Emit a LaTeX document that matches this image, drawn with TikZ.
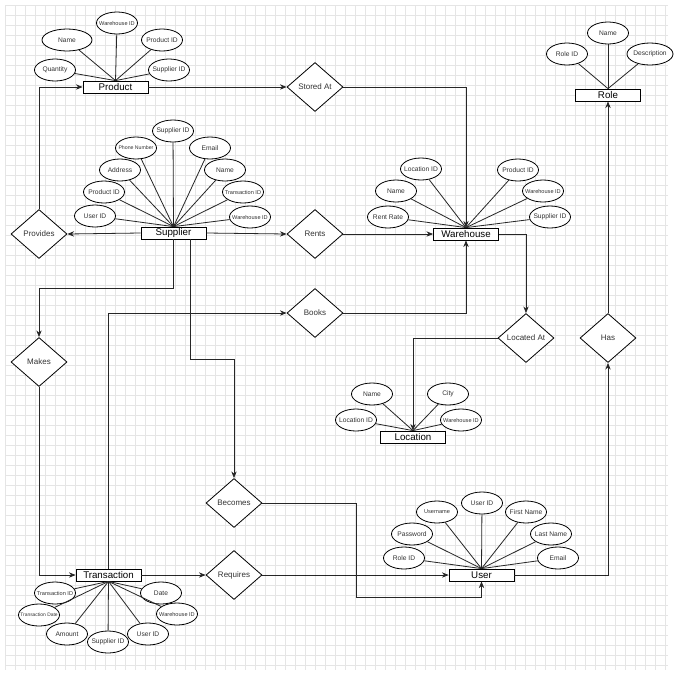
\documentclass[tikz,border=0pt]{standalone}
\usepackage{fontspec}
\setmainfont{Liberation Sans}
\usetikzlibrary{shapes.geometric,arrows.meta,calc}

\begin{document}
\begin{tikzpicture}[x=0.75pt,y=-0.75pt,
        entity/.style={rectangle, draw, fill=white, line width=0.6pt,
                minimum width=48.75pt, minimum height=9pt, inner sep=0pt,
                font=\fontsize{7.3}{8}\selectfont},
        attr/.style={ellipse, draw, fill=white, line width=0.6pt,
                minimum width=30.75pt, minimum height=16.5pt,
                inner xsep=-9pt, inner ysep=0pt, text=black!80,
                font=\fontsize{5}{6}\selectfont},
        smalltxt/.style={font=\fontsize{4.2}{5}\selectfont},
        tinytxt/.style={font=\fontsize{3.7}{4}\selectfont},
        relation/.style={diamond, draw, fill=white, line width=0.6pt,
                minimum width=42pt, minimum height=36.75pt, inner sep=0pt,
                text=black!80, font=\fontsize{6}{7}\selectfont},
        attrline/.style={line width=0.6pt, black!85},
        arr/.style={line width=0.6pt, black!85, -{Stealth[length=5pt,width=4pt]}},
        gridline/.style={line width=0.3pt, black!10}]
    \useasboundingbox (0,0) rectangle (675,679);
    \fill[white] (0,0) rectangle (675,679);
    % background grid
    \foreach \gx in {5,15,...,665}
        \draw[gridline] (\gx,5) -- (\gx,670);
    \foreach \gy in {5,15,...,665}
        \draw[gridline] (5,\gy) -- (668,\gy);

    % entities
    \node[entity] (product) at (115.5,87) {Product};
    \node[entity] (supplier) at (173.5,233) {Supplier};
    \node[entity] (warehouse) at (466,234) {Warehouse};
    \node[entity] (role) at (608,95) {Role};
    \node[entity] (location) at (413,437) {Location};
    \node[entity] (user) at (481.5,575) {User};
    \node[entity] (trans) at (108.5,575) {Transaction};

    % relationships
    \node[relation] (provides) at (39,234) {Provides};
    \node[relation] (stored) at (315,87) {Stored At};
    \node[relation] (rents) at (315,234) {Rents};
    \node[relation] (books) at (315,313) {Books};
    \node[relation] (makes) at (39,362) {Makes};
    \node[relation] (becomes) at (234,503) {Becomes};
    \node[relation] (requires) at (234,575) {Requires};
    \node[relation] (located) at (526,338) {Located At};
    \node[relation] (has) at (608,338) {Has};

    % product attributes
    \node[attr, smalltxt] (p_wid) at (117,23) {Warehouse ID};
    \node[attr, minimum width=37.5pt] (p_name) at (67,40) {Name};
    \node[attr] (p_pid) at (162,40) {Product ID};
    \node[attr] (p_qty) at (55,70) {Quantity};
    \node[attr] (p_sid) at (169,70) {Supplier ID};
    \foreach \a in {p_wid,p_name,p_pid,p_qty,p_sid}
        \draw[attrline] (\a) -- (product.north);

    % supplier attributes
    \node[attr] (s_sid) at (173,131) {Supplier ID};
    \node[attr, font=\fontsize{3.9}{4}\selectfont] (s_phone) at (136,148) {Phone Number};
    \node[attr] (s_email) at (210,148) {Email};
    \node[attr] (s_addr) at (120,170) {Address};
    \node[attr] (s_name) at (225,170) {Name};
    \node[attr] (s_pid) at (104,192) {Product ID};
    \node[attr, smalltxt] (s_tid) at (243,192) {Transaction ID};
    \node[attr] (s_uid) at (95,216) {User ID};
    \node[attr, smalltxt] (s_wid) at (250,217) {Warehouse ID};
    \foreach \a in {s_sid,s_phone,s_email,s_addr,s_name,s_pid,s_tid,s_uid,s_wid}
        \draw[attrline] (\a) -- (supplier.north);

    % warehouse attributes
    \node[attr] (w_lid) at (421,169) {Location ID};
    \node[attr] (w_name) at (396,191) {Name};
    \node[attr] (w_rent) at (388,217) {Rent Rate};
    \node[attr] (w_pid) at (518,170) {Product ID};
    \node[attr, smalltxt] (w_wid) at (543,191) {Warehouse ID};
    \node[attr] (w_sid) at (550,217) {Supplier ID};
    \foreach \a in {w_lid,w_name,w_rent,w_pid,w_wid,w_sid}
        \draw[attrline] (\a) -- (warehouse.north);

    % role attributes
    \node[attr] (r_name) at (608,33) {Name};
    \node[attr] (r_rid) at (567,54) {Role ID};
    \node[attr, minimum width=34.5pt] (r_desc) at (650,54) {Description};
    \foreach \a in {r_name,r_rid,r_desc}
        \draw[attrline] (\a) -- (role.north);

    % location attributes
    \node[attr] (l_name) at (372,394) {Name};
    \node[attr] (l_city) at (448,394) {City};
    \node[attr] (l_lid) at (356,420) {Location ID};
    \node[attr, smalltxt] (l_wid) at (461,420) {Warehouse ID};
    \foreach \a in {l_name,l_city,l_lid,l_wid}
        \draw[attrline] (\a) -- (location.north);

    % user attributes
    \node[attr] (u_uid) at (482,503) {User ID};
    \node[attr, smalltxt] (u_uname) at (437,512) {Username};
    \node[attr] (u_first) at (526,512) {First Name};
    \node[attr] (u_pass) at (412,534) {Password};
    \node[attr] (u_last) at (551,534) {Last Name};
    \node[attr] (u_rid) at (404,558) {Role ID};
    \node[attr] (u_email) at (558,558) {Email};
    \foreach \a in {u_uid,u_uname,u_first,u_pass,u_last,u_rid,u_email}
        \draw[attrline] (\a) -- (user.north);

    % transaction attributes
    \node[attr, smalltxt] (t_tid) at (55,593) {Transaction ID};
    \node[attr, tinytxt] (t_tdate) at (39,615) {Transaction Date};
    \node[attr] (t_amt) at (67,634) {Amount};
    \node[attr] (t_sid) at (108,642) {Supplier ID};
    \node[attr] (t_uid) at (148,634) {User ID};
    \node[attr, smalltxt] (t_wid) at (177,614) {Warehouse ID};
    \node[attr] (t_date) at (161,593) {Date};
    \foreach \a in {t_tid,t_tdate,t_amt,t_sid,t_uid,t_wid,t_date}
        \draw[attrline] (\a) -- (trans.south);

    % relationship connectors
    \draw[arr] (supplier.west) -- (provides.east);
    \draw[arr] (provides.north) |- (product.west);
    \draw[arr] (product.east) -- (stored.west);
    \draw[arr] (stored.east) -| (warehouse.north);
    \draw[arr] (supplier.east) -- (rents.west);
    \draw[arr] (rents.east) -- (warehouse.west);
    \draw[arr] (supplier.south) -- ++(0,49) -| (makes.north);
    \draw[arr] ($(supplier.south)+(16.5,0)$) -- ++(0,120) -| (becomes.north);
    \draw[arr] (trans.north) |- (books.west);
    \draw[arr] (books.east) -| (warehouse.south);
    \draw[arr] (makes.south) |- (trans.west);
    \draw[arr] (trans.east) -- (requires.west);
    \draw[arr] (requires.east) -- (user.west);
    \draw[arr] (becomes.east) -- (356,503) -- (356,597) -| (user.south);
    \draw[arr] (user.east) -| (has.south);
    \draw[arr] (has.north) -- (role.south);
    \draw[arr] (warehouse.east) -| (located.north);
    \draw[arr] (located.west) -| (location.north);
\end{tikzpicture}
\end{document}
